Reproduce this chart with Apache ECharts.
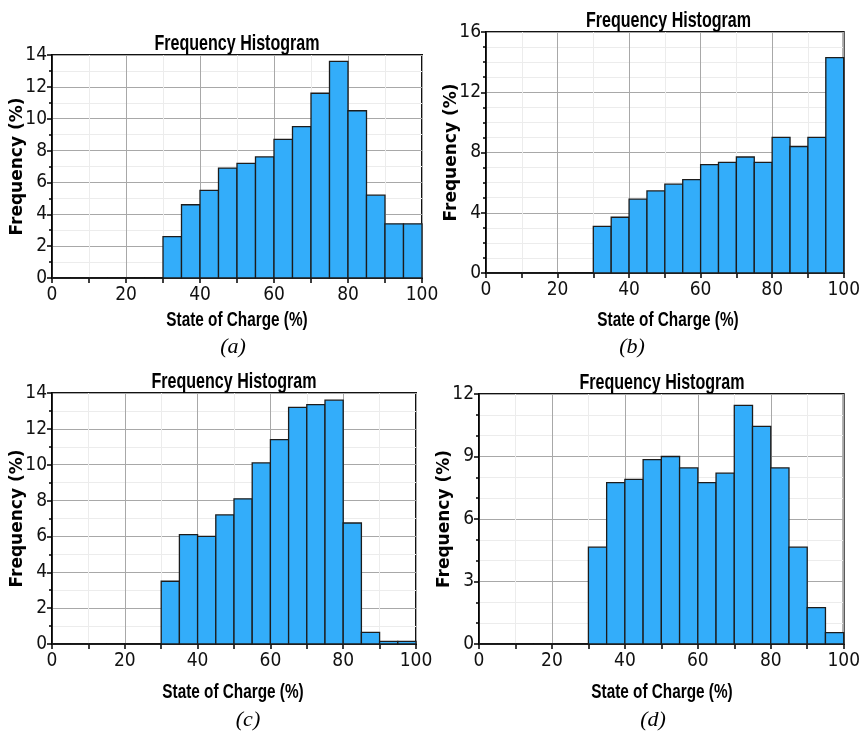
<!DOCTYPE html>
<html>
<head>
<meta charset="utf-8">
<script src="https://cdn.jsdelivr.net/npm/echarts@6/dist/echarts.min.js"></script>
<style>
  html, body { margin: 0; padding: 0; background: #fff; }
  #main { width: 863px; height: 735px; }
</style>
</head>
<body>
<div id="main"></div>
<script>
// bins: 5% wide, 0..100
const binStarts = [0, 5, 10, 15, 20, 25, 30, 35, 40, 45, 50, 55, 60, 65, 70, 75, 80, 85, 90, 95];
const binWidth = 5;

// frequency (%) per bin
const freqA = [0, 0, 0, 0, 0, 0, 2.6, 4.6, 5.5, 6.9, 7.2, 7.6, 8.7, 9.5, 11.6, 13.6, 10.5, 5.2, 3.4, 3.4];
const freqB = [0, 0, 0, 0, 0, 0, 3.1, 3.7, 4.9, 5.45, 5.9, 6.2, 7.2, 7.35, 7.7, 7.35, 9.0, 8.4, 9.0, 14.3];
const freqC = [0, 0, 0, 0, 0, 0, 3.5, 6.1, 6.0, 7.2, 8.1, 10.1, 11.4, 13.2, 13.35, 13.6, 6.75, 0.65, 0.15, 0.15];
const freqD = [0, 0, 0, 0, 0, 0, 4.65, 7.75, 7.9, 8.85, 9.0, 8.45, 7.75, 8.2, 11.45, 10.45, 8.45, 4.65, 1.75, 0.55];

// y axis ranges
const yMax = [14, 16, 14, 12];
const yStep = [2, 4, 2, 3];
const yMinorSplit = [2, 4, 2, 3];
const captions = ['(a)', '(b)', '(c)', '(d)'];

const chartTitle = 'Frequency Histogram';
const xName = 'State of Charge (%)';
const yName = 'Frequency (%)';

const narrow = "'Liberation Sans Narrow', 'DejaVu Sans Condensed', 'Arial Narrow', sans-serif";
const arial = "'Liberation Sans', Arial, sans-serif";

// plot boxes
const grids = [
    { left: 52, top: 55, width: 370, height: 223 },
    { left: 486, top: 32, width: 365, height: 241 },
    { left: 52, top: 393, width: 364, height: 251 },
    { left: 479, top: 394, width: 366, height: 250 }
];
// centre of the x axis title, and of the caption under it
const xNamePos = [[237, 320], [668, 320], [233, 692], [662, 692]];
const captionPos = [[233, 347], [632, 347], [248, 720], [653, 720]];

const allFreq = [freqA, freqB, freqC, freqD];

function binData (freq) {
    return binStarts.map((s, i) => [s, s + binWidth, freq[i]]);
}

function renderBin (params, api) {
    const p0 = api.coord([api.value(0), api.value(2)]);
    const p1 = api.coord([api.value(1), 0]);
    return {
        type: 'rect',
        shape: { x: p0[0], y: p0[1], width: p1[0] - p0[0], height: p1[1] - p0[1] },
        style: { fill: '#33adfa', stroke: '#1c1c1c', lineWidth: 1.3 }
    };
}

// condensed bold text (narrow look made by squeezing Arial)
function squeezedText (text, x, y, size) {
    return {
        type: 'text',
        x: x,
        y: y,
        scaleX: 0.73,
        style: {
            text: text,
            fontFamily: arial,
            fontWeight: 'bold',
            fontSize: size,
            fill: '#000',
            align: 'center',
            verticalAlign: 'middle'
        }
    };
}

const myChart = echarts.init(document.getElementById('main'), null, { renderer: 'canvas' });

const option = {
    backgroundColor: '#fff',
    animation: false,
    grid: grids.map(g => Object.assign({
        show: true,
        borderColor: '#111',
        borderWidth: 2,
        backgroundColor: 'transparent',
        containLabel: false
    }, g)),
    xAxis: grids.map((g, i) => ({
        type: 'value',
        gridIndex: i,
        min: 0,
        max: 100,
        interval: 20,
        axisLine: { show: true, lineStyle: { color: '#000', width: 1.5 } },
        axisTick: { show: true, inside: false, length: 5, lineStyle: { color: '#000', width: 1.5 } },
        minorTick: { show: true, splitNumber: 2, length: 5, lineStyle: { color: '#000', width: 1.5 } },
        axisLabel: { fontFamily: narrow, fontSize: 19, color: '#111', margin: 8 },
        splitLine: { show: true, lineStyle: { color: '#a8a8a8', width: 1 } },
        minorSplitLine: { show: true, lineStyle: { color: '#ececec', width: 1 } }
    })),
    yAxis: grids.map((g, i) => ({
        type: 'value',
        gridIndex: i,
        min: 0,
        max: yMax[i],
        interval: yStep[i],
        name: yName,
        nameLocation: 'middle',
        nameGap: 26,
        nameMoveOverlap: false,
        nameRotate: 90,
        nameTextStyle: { fontFamily: "'DejaVu Sans', Verdana, sans-serif", fontWeight: 'bold', fontSize: 17, color: '#000' },
        axisLine: { show: true, lineStyle: { color: '#000', width: 1.5 } },
        axisTick: { show: true, inside: false, length: 5, lineStyle: { color: '#000', width: 1.5 } },
        minorTick: { show: true, splitNumber: yMinorSplit[i], length: 3, lineStyle: { color: '#000', width: 1.5 } },
        axisLabel: { fontFamily: narrow, fontSize: 19, color: '#111', margin: 5 },
        splitLine: { show: true, lineStyle: { color: '#a8a8a8', width: 1 } },
        minorSplitLine: { show: true, lineStyle: { color: '#ececec', width: 1 } }
    })),
    series: allFreq.map((freq, i) => ({
        type: 'custom',
        xAxisIndex: i,
        yAxisIndex: i,
        renderItem: renderBin,
        encode: { x: [0, 1], y: 2 },
        data: binData(freq)
    })),
    graphic: [].concat(
        grids.map(g => squeezedText(chartTitle, g.left + g.width / 2, g.top - 11, 22)),
        xNamePos.map(p => squeezedText(xName, p[0], p[1], 21)),
        captionPos.map((p, i) => ({
            type: 'text',
            x: p[0],
            y: p[1],
            style: {
                text: captions[i],
                fontFamily: "'Liberation Serif', 'Times New Roman', serif",
                fontStyle: 'italic',
                fontSize: 22,
                fill: '#000',
                align: 'center',
                verticalAlign: 'middle'
            }
        }))
    )
};

myChart.setOption(option);
</script>
</body>
</html>
